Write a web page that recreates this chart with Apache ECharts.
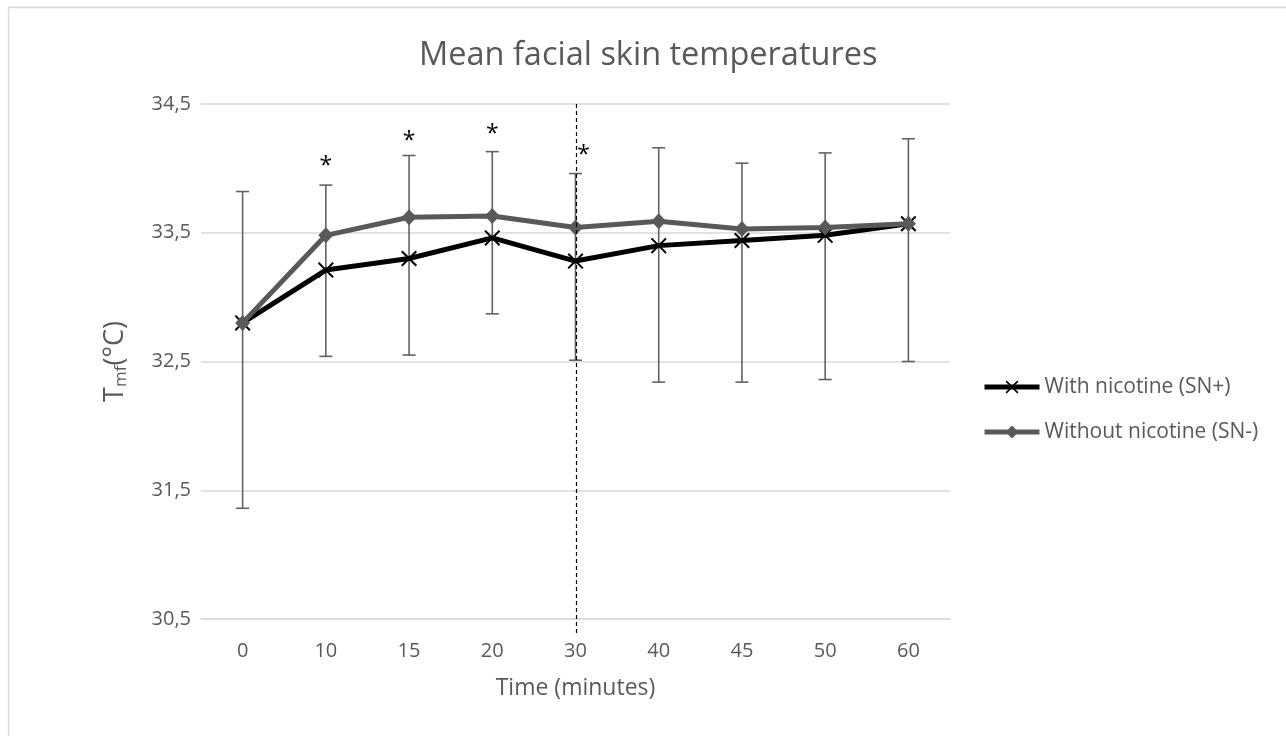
<!DOCTYPE html>
<html>
<head>
<meta charset="utf-8">
<script src="https://cdn.jsdelivr.net/npm/echarts@6/dist/echarts.min.js"></script>
<style>
html,body{margin:0;padding:0;background:#fff;}
#chart{width:1286px;height:736px;}
</style>
</head>
<body>
<div id="chart"></div>
<script>
const categories = ['0', '10', '15', '20', '30', '40', '45', '50', '60'];
const withNicotine = [32.80, 33.21, 33.30, 33.46, 33.28, 33.40, 33.44, 33.48, 33.57];
const withoutNicotine = [32.80, 33.48, 33.62, 33.63, 33.54, 33.59, 33.53, 33.54, 33.57];
const errorUpper = [33.82, 33.87, 34.10, 34.13, 33.96, 34.16, 34.04, 34.12, 34.23];
const errorLower = [31.36, 32.54, 32.55, 32.87, 32.51, 32.34, 32.34, 32.36, 32.50];
const significantTimes = ['10', '15', '20', '30'];
const asteriskValues = [34.05, 34.25, 34.30, 34.14];
const yTickLabels = ['30,5', '31,5', '32,5', '33,5', '34,5'];
const yMin = 30.5, yMax = 34.5, yStep = 1;
const markerTime = '30';

const FONT = 'Open Sans';
const GREY_TEXT = '#595959';
const crossPath = 'path://M0,1.8 L1.8,0 L10,8.2 L18.2,0 L20,1.8 L11.8,10 L20,18.2 L18.2,20 L10,11.8 L1.8,20 L0,18.2 L8.2,10 Z';

const chart = echarts.init(document.getElementById('chart'), null, {renderer: 'canvas'});

const errData = categories.map((c, i) => [i, errorUpper[i], errorLower[i]]);
const starData = significantTimes.map((t, i) => [categories.indexOf(t), asteriskValues[i]]);
const markerIdx = categories.indexOf(markerTime);

const option = {
  backgroundColor: '#fff',
  animation: false,
  title: {
    text: 'Mean facial skin temperatures',
    left: 419,
    top: 39,
    padding: 0,
    textStyle: {fontFamily: FONT, fontSize: 32.5, fontWeight: 'normal', color: GREY_TEXT}
  },
  graphic: [{
    type: 'rect',
    shape: {x: 8.5, y: 7.5, width: 1400, height: 800},
    style: {fill: 'none', stroke: '#d9d9d9', lineWidth: 1.5},
    silent: true, z: -10
  }],
  legend: {
    orient: 'vertical',
    left: 982,
    top: 375,
    padding: 0,
    itemWidth: 55,
    itemHeight: 16,
    itemGap: 21,
    lineStyle: {width: 5},
    textStyle: {fontFamily: FONT, fontSize: 21, color: GREY_TEXT, lineHeight: 24},
    data: ['With nicotine (SN+)', 'Without nicotine (SN-)']
  },
  grid: {left: 201, right: 336, top: 104, bottom: 117, containLabel: false},
  xAxis: {
    type: 'category',
    data: categories,
    boundaryGap: true,
    name: 'Time (minutes)',
    nameLocation: 'middle',
    nameGap: 58,
    nameTextStyle: {fontFamily: FONT, fontSize: 23, color: GREY_TEXT},
    axisLine: {lineStyle: {color: '#d9d9d9', width: 1.5}},
    axisTick: {show: false},
    axisLabel: {fontFamily: FONT, fontSize: 20, color: GREY_TEXT, margin: 22}
  },
  yAxis: {
    type: 'value',
    min: yMin, max: yMax, interval: yStep,
    name: '{a|T}{b|mf}{a|(°C)}',
    nameLocation: 'middle',
    nameGap: 69,
    nameRotate: 90,
    nameTextStyle: {
      color: GREY_TEXT,
      rich: {
        a: {fontFamily: FONT, fontSize: 27, color: GREY_TEXT, lineHeight: 34},
        b: {fontFamily: FONT, fontSize: 17, color: GREY_TEXT, lineHeight: 34, padding: [12, 0, 0, 0]}
      }
    },
    axisLine: {show: false},
    axisTick: {show: false},
    splitLine: {lineStyle: {color: '#d9d9d9', width: 1.5}},
    axisLabel: {
      fontFamily: FONT, fontSize: 20, color: GREY_TEXT, margin: 10,
      formatter: v => yTickLabels[Math.round((v - yMin) / yStep)]
    }
  },
  series: [
    {
      name: 'errorbars',
      type: 'custom',
      z: 1,
      silent: true,
      encode: {x: 0, y: [1, 2]},
      data: errData,
      renderItem: function (params, api) {
        const x = api.value(0);
        const top = api.coord([x, api.value(1)]);
        const bot = api.coord([x, api.value(2)]);
        const w = 6.5;
        const st = {stroke: '#626262', lineWidth: 1.6};
        return {
          type: 'group',
          children: [
            {type: 'line', shape: {x1: top[0], y1: top[1], x2: bot[0], y2: bot[1]}, style: st},
            {type: 'line', shape: {x1: top[0] - w, y1: top[1], x2: top[0] + w, y2: top[1]}, style: st},
            {type: 'line', shape: {x1: bot[0] - w, y1: bot[1], x2: bot[0] + w, y2: bot[1]}, style: st}
          ]
        };
      }
    },
    {
      name: 'With nicotine (SN+)',
      type: 'line',
      z: 3,
      data: withNicotine,
      symbol: crossPath,
      symbolSize: 16,
      lineStyle: {color: '#000', width: 5},
      itemStyle: {color: '#000'}
    },
    {
      name: 'Without nicotine (SN-)',
      type: 'line',
      z: 4,
      data: withoutNicotine,
      symbol: 'diamond',
      symbolSize: [15, 16],
      lineStyle: {color: '#595959', width: 5},
      itemStyle: {color: '#595959'}
    },
    {
      name: 'marker',
      type: 'custom',
      z: 5,
      silent: true,
      data: [[markerIdx, yMax]],
      renderItem: function (params, api) {
        const p = api.coord([api.value(0), api.value(1)]);
        const cs = params.coordSys;
        const x = Math.round(p[0]) + 0.5;
        return {
          type: 'line',
          shape: {x1: x, y1: cs.y, x2: x, y2: cs.y + cs.height + 14},
          style: {stroke: '#000', lineWidth: 1.2, lineDash: [4, 3]}
        };
      }
    },
    {
      name: 'stars',
      type: 'custom',
      z: 6,
      silent: true,
      data: starData,
      renderItem: function (params, api) {
        const idx = api.value(0);
        const p = api.coord([idx, api.value(1)]);
        const dx = (idx === markerIdx) ? 8 : 0;
        return {
          type: 'text',
          x: p[0] + dx,
          y: p[1] + 5,
          style: {text: '*', fontFamily: FONT, fontSize: 23, fill: '#000', align: 'center', verticalAlign: 'middle'}
        };
      }
    }
  ]
};
chart.setOption(option);
</script>
</body>
</html>
